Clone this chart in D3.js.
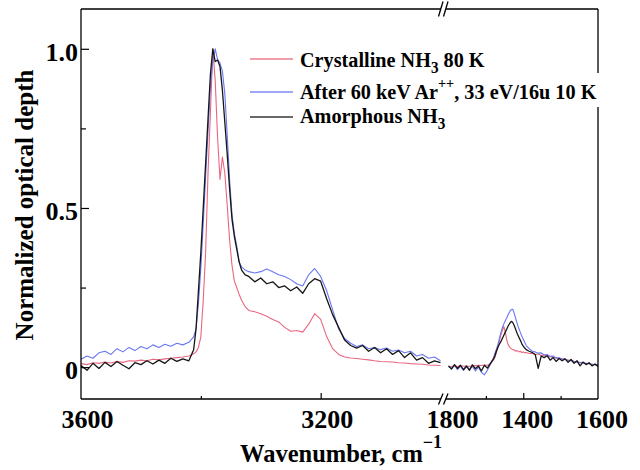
<!DOCTYPE html>
<html><head><meta charset="utf-8">
<script src="https://cdn.jsdelivr.net/npm/d3@7"></script>
<style>
body{margin:0;background:#fff}
svg{display:block}
text{font-family:"Liberation Serif","Times New Roman",serif;font-weight:bold;fill:#000}
.tick text{font-size:26px}
</style>
</head><body><svg id="c" width="640" height="470"></svg>
<script>
// ---------- data ----------
const seriesNames = ["Crystalline NH3 80 K", "After 60 keV Ar++, 33 eV/16u 10 K", "Amorphous NH3"];
const seriesColors = ["#e8677f", "#6a78f0", "#161616"];

// left segment (3600 - 3000 cm-1)
const wnLeft = [3600,3590,3580,3570,3560,3550,3540,3530,3520,3510,3500,3490,3480,3470,3460,3450,3440,3430,3420,
  3412,3408,3404,3400,3396,3392,3388,3384,3380,3376,3372,3368,3364,3360,3356,3352,3348,3344,3340,3336,3332,
  3326,3320,3310,3300,3290,3280,3270,3260,3250,3240,3230,3220,3210,3200,3190,3180,3170,3160,3150,3140,3130,3120,3110,3100,3090,3080,3070,3060,3050,3040,3030,3020,3010,3000];
const crystLeft = [0.011,0.008,0.014,0.012,0.016,0.013,0.018,0.015,0.020,0.019,0.022,0.020,0.025,0.023,0.026,0.028,0.030,0.032,0.035,
  0.042,0.048,0.062,0.095,0.21,0.36,0.61,0.80,1.0,0.90,0.72,0.59,0.66,0.61,0.51,0.40,0.32,0.27,0.25,0.228,0.21,
  0.19,0.178,0.174,0.168,0.160,0.150,0.142,0.125,0.113,0.115,0.110,0.135,0.168,0.150,0.096,0.058,0.040,0.032,0.029,0.027,0.025,0.023,0.020,0.018,0.017,0.016,0.014,0.013,0.011,0.010,0.009,0.007,0.006,0.005];
const afterLeft = [0.025,0.035,0.028,0.045,0.050,0.040,0.058,0.048,0.062,0.052,0.065,0.058,0.070,0.062,0.072,0.066,0.075,0.070,0.078,
  0.095,0.12,0.20,0.31,0.45,0.60,0.74,0.88,0.96,1.0,0.965,0.955,0.93,0.86,0.73,0.59,0.48,0.42,0.38,0.33,0.315,
  0.305,0.300,0.296,0.300,0.308,0.300,0.290,0.285,0.275,0.262,0.255,0.290,0.310,0.285,0.240,0.180,0.120,0.090,0.075,0.065,0.070,0.058,0.062,0.055,0.060,0.050,0.054,0.045,0.050,0.035,0.040,0.028,0.032,0.020];
const amorphLeft = [0.005,-0.010,0.012,-0.004,0.015,0.002,0.018,0.006,-0.005,0.014,0.008,0.020,0.010,0.022,0.012,0.028,0.018,0.026,0.020,
  0.055,0.12,0.24,0.36,0.50,0.64,0.78,0.92,1.0,0.96,0.965,0.944,0.87,0.77,0.67,0.56,0.465,0.41,0.37,0.33,0.305,
  0.29,0.285,0.268,0.28,0.262,0.268,0.25,0.255,0.24,0.252,0.232,0.262,0.278,0.27,0.215,0.165,0.125,0.085,0.068,0.06,0.068,0.05,0.062,0.045,0.058,0.04,0.052,0.03,0.045,0.022,0.03,0.012,0.02,0.014];

// right segment (after the axis break)
const wnRight = [1800,1792,1784,1776,1768,1760,1752,1744,1736,1728,1720,1712,1704,1696,1688,1680,
  1676,1672,1668,1664,1660,1656,1652,1648,1644,1640,1636,1632,1628,1624,1620,1616,1612,1608,1604,1600,1596,1592,
  1584,1576,1568,1560,1552,1544,1536,1528,1520,1512,1504,1496,1488,1480,1472,1464,1456,1448,1440,1432,1424,1416,1408,1400];
const crystRight = [0.003,0.001,0.004,0.002,0.005,0.003,0.004,0.002,0.005,0.004,0.006,0.005,0.007,0.006,0.010,0.022,
  0.030,0.045,0.062,0.082,0.100,0.115,0.128,0.110,0.085,0.070,0.062,0.058,0.055,0.054,0.050,0.052,0.048,0.050,0.046,0.048,0.045,0.046,
  0.043,0.044,0.040,0.041,0.037,0.038,0.034,0.033,0.031,0.030,0.027,0.026,0.024,0.022,0.020,0.018,0.016,0.015,0.013,0.012,0.010,0.009,0.008,0.008];
const afterRight = [0.002,-0.004,0.006,-0.008,0.003,-0.010,0.004,-0.006,0.002,-0.012,0.000,-0.016,-0.024,-0.010,0.008,0.028,
  0.042,0.056,0.070,0.090,0.108,0.124,0.136,0.146,0.155,0.166,0.175,0.181,0.182,0.168,0.152,0.136,0.122,0.110,0.098,0.088,0.078,0.068,
  0.058,0.050,0.048,0.044,0.045,0.038,0.040,0.034,0.035,0.028,0.030,0.025,0.026,0.020,0.022,0.018,0.016,0.014,0.015,0.011,0.012,0.009,0.008,0.006];
const amorphRight = [0.004,-0.006,0.008,-0.004,0.006,-0.008,0.003,-0.010,0.007,-0.005,0.004,-0.012,0.006,-0.003,0.012,0.025,
  0.035,0.050,0.062,0.072,0.080,0.090,0.100,0.110,0.120,0.130,0.138,0.144,0.140,0.130,0.118,0.105,0.095,0.085,0.074,0.066,0.060,0.055,
  0.050,0.046,0.040,-0.004,0.035,0.030,0.036,0.022,0.030,0.018,0.027,0.020,0.026,0.015,0.024,0.012,0.020,0.004,0.016,0.008,0.014,0.004,0.010,0.002];

// ticks
const yTicks = [0, 0.5, 1.0];
const yTickLabels = ["0", "0.5", "1.0"];
const yMinorTicks = [0.25, 0.75];
const xLeftMajor = [3200], xLeftMinor = [3400];
const xLeftLabelVals = [3600, 3200], xLeftLabels = ["3600", "3200"];
const xRightMajor = [1600], xRightMinor = [1700, 1500];
const xRightLabelVals = [1800, 1600, 1400], xRightLabels = ["1800", "1400", "1600"];

// ---------- layout ----------
const svg = d3.select("#c");
const L = 81, R = 598, T = 9, B = 399, brkL = 440.5, brkR = 448.5;
const y = d3.scaleLinear().domain([-0.1, 1.125]).range([B, T]);
const xL = d3.scaleLinear().domain([3600, 3000]).range([L, brkL]);
const xR = d3.scaleLinear().domain([1800, 1400]).range([brkR, R]);

function curve(xs, wn, vals, color, w) {
  const line = d3.line().x((d, i) => xs(wn[i])).y(d => y(d));
  svg.append("path").attr("d", line(vals)).attr("fill", "none")
    .attr("stroke", color).attr("stroke-width", w).attr("stroke-linejoin", "round");
}
curve(xL, wnLeft, crystLeft, seriesColors[0], 1.1);
curve(xR, wnRight, crystRight, seriesColors[0], 1.1);
curve(xL, wnLeft, afterLeft, seriesColors[1], 1.1);
curve(xR, wnRight, afterRight, seriesColors[1], 1.1);
curve(xL, wnLeft, amorphLeft, seriesColors[2], 1.3);
curve(xR, wnRight, amorphRight, seriesColors[2], 1.3);

// ---------- axes ----------
function cleanup(g) { g.select(".domain").remove(); g.selectAll("line").attr("stroke", "#000").attr("stroke-width", 1.2); }
svg.append("g").attr("transform", `translate(${L},0)`)
  .call(d3.axisLeft(y).tickValues(yTicks).tickSize(-8).tickPadding(3).tickFormat((d, i) => yTickLabels[i]))
  .call(cleanup).selectAll("text").attr("dy", "0.44em");
svg.append("g").attr("transform", `translate(${L},0)`)
  .call(d3.axisLeft(y).tickValues(yMinorTicks).tickSize(-5).tickFormat(""))
  .call(cleanup);

svg.append("g").attr("transform", `translate(0,${B})`)
  .call(d3.axisBottom(xL).tickValues(xLeftMajor).tickSize(-6).tickFormat("")).call(cleanup);
svg.append("g").attr("transform", `translate(0,${B})`)
  .call(d3.axisBottom(xL).tickValues(xLeftMinor).tickSize(-3).tickFormat("")).call(cleanup);
svg.append("g").attr("transform", `translate(0,${B})`)
  .call(d3.axisBottom(xL).tickValues(xLeftLabelVals).tickSize(0).tickPadding(10.5).tickFormat((d, i) => xLeftLabels[i]))
  .call(cleanup).selectAll("text").attr("dx", 6);
svg.append("g").attr("transform", `translate(0,${B})`)
  .call(d3.axisBottom(xR).tickValues(xRightMajor).tickSize(-6).tickFormat("")).call(cleanup);
svg.append("g").attr("transform", `translate(0,${B})`)
  .call(d3.axisBottom(xR).tickValues(xRightMinor).tickSize(-3).tickFormat("")).call(cleanup);
svg.append("g").attr("transform", `translate(0,${B})`)
  .call(d3.axisBottom(xR).tickValues(xRightLabelVals).tickSize(0).tickPadding(10.5).tickFormat((d, i) => xRightLabels[i]))
  .call(cleanup).selectAll("text").attr("dx", 3.5);

// frame with breaks
const frame = svg.append("g").attr("stroke", "#000").attr("stroke-width", 1.3).attr("fill", "none");
frame.append("line").attr("x1", L).attr("x2", L).attr("y1", T).attr("y2", B);
frame.append("line").attr("x1", R).attr("x2", R).attr("y1", T).attr("y2", B);
[B, T].forEach(yy => {
  frame.append("line").attr("x1", L).attr("x2", 441).attr("y1", yy).attr("y2", yy);
  frame.append("line").attr("x1", 446).attr("x2", R).attr("y1", yy).attr("y2", yy);
});
[[B, 5.5], [T, 7.5]].forEach(([yy, h]) => {
  frame.append("line").attr("x1", 438.5).attr("y1", yy + h).attr("x2", 443).attr("y2", yy - h);
  frame.append("line").attr("x1", 443.5).attr("y1", yy + h).attr("x2", 448).attr("y2", yy - h);
});

// ---------- legend ----------
const legY = [59, 92, 117];
const legBase = [66.5, 98.5, 122.5];
legY.forEach((ly, i) => {
  svg.append("line").attr("x1", 250).attr("x2", 293).attr("y1", ly).attr("y2", ly)
    .attr("stroke", seriesColors[i]).attr("stroke-width", 1.4).attr("opacity", 0.85);
});
svg.append("rect").attr("x", 299).attr("y", 73).attr("width", 309).attr("height", 34).attr("fill", "#fff");

function legText(i, parts) {
  const t = svg.append("g").attr("transform", `translate(300,${legBase[i]}) scale(0.95,1)`)
    .append("text").attr("x", 0).attr("y", 0).attr("font-size", 21.3);
  parts.forEach(p => {
    const s = t.append("tspan").text(p.t);
    if (p.fs) s.attr("font-size", p.fs);
    if (p.dy) s.attr("dy", p.dy);
  });
}
legText(0, [{t: "Crystalline NH"}, {t: "3", fs: 16, dy: 6}, {t: " 80 K", dy: -6}]);
legText(1, [{t: "After 60 keV Ar"}, {t: "++", fs: 15, dy: -11}, {t: ", 33 eV/16u 10 K", dy: 11}]);
legText(2, [{t: "Amorphous NH"}, {t: "3", fs: 16, dy: 6}]);

// ---------- titles ----------
const xt = svg.append("text").attr("x", 240).attr("y", 462).attr("font-size", 24.5);
xt.append("tspan").text("Wavenumber, cm");
xt.append("tspan").text("\u22121").attr("font-size", 18).attr("dy", -14);

svg.append("text").attr("transform", "translate(33,205) rotate(-90)")
  .attr("text-anchor", "middle").attr("font-size", 25).text("Normalized optical depth");
</script>
</body></html>
